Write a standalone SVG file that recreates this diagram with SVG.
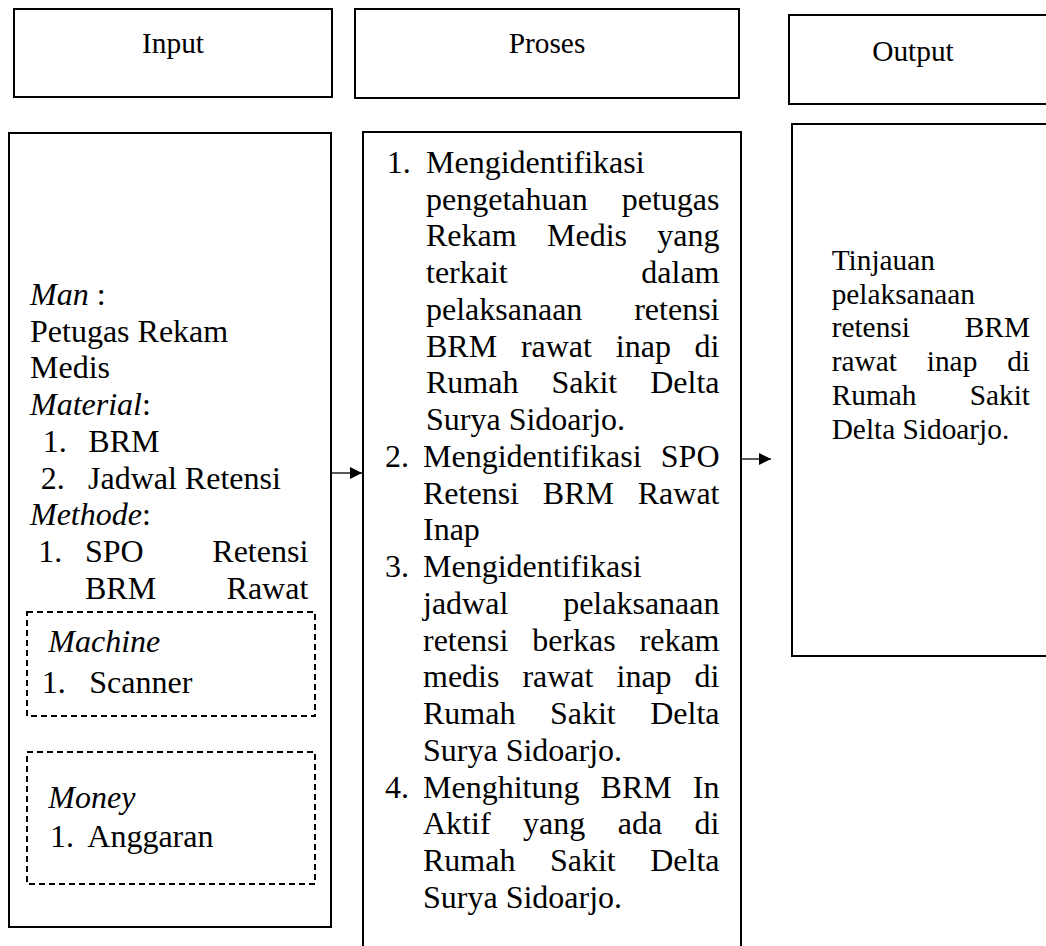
<svg xmlns="http://www.w3.org/2000/svg" width="1046" height="946" viewBox="0 0 1046 946">
<style>
text{font-family:"Liberation Serif","Times New Roman",serif;fill:#000}
.b{font-size:32px}
.s{font-size:29.33px}
.i{font-style:italic}
.e{text-anchor:end}
.m{text-anchor:middle}
.box{fill:#fff;stroke:#000;stroke-width:2}
.dash{fill:none;stroke:#000;stroke-width:2;stroke-dasharray:6 4}
.conn{stroke:#000;stroke-width:1.3;fill:none}
</style>
<defs>
<marker id="ah" viewBox="0 0 10 10" refX="10" refY="5" markerWidth="14" markerHeight="12" markerUnits="userSpaceOnUse" orient="auto">
<path d="M0,0 L10,5 L0,10 Z" fill="#000"/>
</marker>
</defs>
<rect width="1046" height="946" fill="#fff"/>

<g id="input-header">
<rect class="box" x="14" y="9" width="318" height="88"/>
<text class="s m" x="173" y="53">Input</text>
</g>
<g id="proses-header">
<rect class="box" x="355" y="9" width="384" height="89"/>
<text class="s m" x="547" y="53">Proses</text>
</g>
<g id="output-header">
<rect class="box" x="789" y="15" width="300" height="89"/>
<text class="s m" x="913" y="61">Output</text>
</g>

<g id="input-box">
<rect class="box" x="9" y="133" width="322" height="794"/>
<text class="b" x="30" y="305"><tspan class="i">Man</tspan> :</text>
<text class="b" x="30" y="341.7">Petugas Rekam</text>
<text class="b" x="30" y="378.4">Medis</text>
<text class="b" x="30" y="415.1"><tspan class="i">Material</tspan>:</text>
<text class="b" x="42.7" y="451.8">1.</text><text class="b" x="88.3" y="451.8">BRM</text>
<text class="b" x="40.7" y="488.5">2.</text><text class="b" x="88" y="488.5">Jadwal Retensi</text>
<text class="b" x="30" y="525.2"><tspan class="i">Methode</tspan>:</text>
<text class="b" x="38.3" y="561.9">1.</text><text class="b" x="85" y="561.9">SPO</text><text class="b e" x="308.3" y="561.9">Retensi</text>
<text class="b" x="85" y="598.6">BRM</text><text class="b e" x="308.3" y="598.6">Rawat</text>
</g>

<g id="machine-box">
<rect class="dash" x="27" y="612" width="288" height="104"/>
<text class="b i" x="48.3" y="652">Machine</text>
<text class="b" x="41.7" y="693">1.</text><text class="b" x="89.3" y="693">Scanner</text>
</g>

<g id="money-box">
<rect class="dash" x="27" y="752" width="288" height="132"/>
<text class="b i" x="48.3" y="808">Money</text>
<text class="b" x="50" y="847">1.</text><text class="b" x="87.3" y="847">Anggaran</text>
</g>

<g id="proses-box">
<path class="box" d="M363,960 L363,132 L741,132 L741,960"/>
<text class="b" x="386.7" y="172.7">1.</text><text class="b" x="426" y="172.7">Mengidentifikasi</text>
<text class="b" x="426" y="209.5">pengetahuan</text><text class="b e" x="719.5" y="209.5">petugas</text>
<text class="b" x="426" y="246.2">Rekam</text><text class="b" x="547" y="246.2">Medis</text><text class="b e" x="719.5" y="246.2">yang</text>
<text class="b" x="426" y="283">terkait</text><text class="b e" x="719.5" y="283">dalam</text>
<text class="b" x="426" y="319.7">pelaksanaan</text><text class="b e" x="719.5" y="319.7">retensi</text>
<text class="b" x="426" y="356.5">BRM</text><text class="b" x="520.9" y="356.5">rawat</text><text class="b" x="615.8" y="356.5">inap</text><text class="b e" x="719.5" y="356.5">di</text>
<text class="b" x="426" y="393.2">Rumah</text><text class="b" x="551.4" y="393.2">Sakit</text><text class="b e" x="719.5" y="393.2">Delta</text>
<text class="b" x="426" y="430">Surya Sidoarjo.</text>
<text class="b" x="385" y="466.7">2.</text><text class="b" x="423" y="466.7">Mengidentifikasi</text><text class="b e" x="719.5" y="466.7">SPO</text>
<text class="b" x="423" y="503.5">Retensi</text><text class="b" x="542.8" y="503.5">BRM</text><text class="b e" x="719.5" y="503.5">Rawat</text>
<text class="b" x="423" y="540.2">Inap</text>
<text class="b" x="385" y="577">3.</text><text class="b" x="423" y="577">Mengidentifikasi</text>
<text class="b" x="423" y="613.7">jadwal</text><text class="b e" x="719.5" y="613.7">pelaksanaan</text>
<text class="b" x="423" y="650.5">retensi</text><text class="b" x="532.2" y="650.5">berkas</text><text class="b e" x="719.5" y="650.5">rekam</text>
<text class="b" x="423" y="687.2">medis</text><text class="b" x="522.4" y="687.2">rawat</text><text class="b" x="616.5" y="687.2">inap</text><text class="b e" x="719.5" y="687.2">di</text>
<text class="b" x="423" y="724">Rumah</text><text class="b" x="549.9" y="724">Sakit</text><text class="b e" x="719.5" y="724">Delta</text>
<text class="b" x="423" y="760.7">Surya Sidoarjo.</text>
<text class="b" x="385" y="797.5">4.</text><text class="b" x="423" y="797.5">Menghitung</text><text class="b" x="600.6" y="797.5">BRM</text><text class="b e" x="719.5" y="797.5">In</text>
<text class="b" x="423" y="834.2">Aktif</text><text class="b" x="523.1" y="834.2">yang</text><text class="b" x="617.8" y="834.2">ada</text><text class="b e" x="719.5" y="834.2">di</text>
<text class="b" x="423" y="871">Rumah</text><text class="b" x="549.9" y="871">Sakit</text><text class="b e" x="719.5" y="871">Delta</text>
<text class="b" x="423" y="907.7">Surya Sidoarjo.</text>
</g>

<g id="output-box">
<rect class="box" x="792" y="124" width="300" height="532"/>
<text class="s" x="831.7" y="270">Tinjauan</text>
<text class="s" x="831.7" y="303.7">pelaksanaan</text>
<text class="s" x="831.7" y="337.4">retensi</text><text class="s e" x="1030" y="337.4">BRM</text>
<text class="s" x="831.7" y="371.1">rawat</text><text class="s" x="926.8" y="371.1">inap</text><text class="s e" x="1030" y="371.1">di</text>
<text class="s" x="831.7" y="404.8">Rumah</text><text class="s e" x="1030" y="404.8">Sakit</text>
<text class="s" x="831.7" y="438.5">Delta Sidoarjo.</text>
</g>

<g id="connectors">
<line class="conn" x1="332" y1="473" x2="362" y2="473" marker-end="url(#ah)"/>
<line class="conn" x1="741" y1="459" x2="771" y2="459" marker-end="url(#ah)"/>
</g>
</svg>
